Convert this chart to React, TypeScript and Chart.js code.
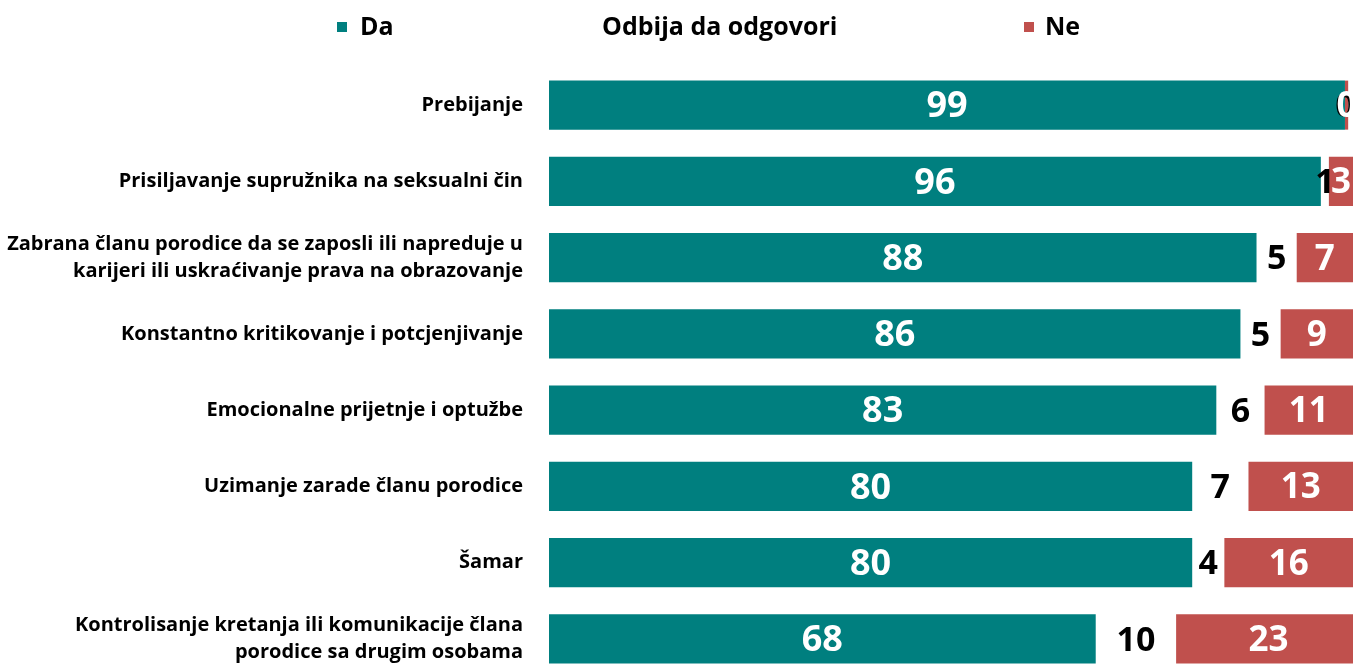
import React, { useEffect, useRef } from "react";
import { Chart, registerables } from "chart.js";

Chart.register(...registerables);

const categories: (string | string[])[] = [
  "Prebijanje",
  "Prisiljavanje supružnika na seksualni čin",
  ["Zabrana članu porodice da se zaposli ili napreduje u", "karijeri ili uskraćivanje prava na obrazovanje"],
  "Konstantno kritikovanje i potcjenjivanje",
  "Emocionalne prijetnje i optužbe",
  "Uzimanje zarade članu porodice",
  "Šamar",
  ["Kontrolisanje kretanja ili komunikacije člana", "porodice sa drugim osobama"],
];
const daValues = [99, 96, 88, 86, 83, 80, 80, 68];
const odbijaValues = [0, 1, 5, 5, 6, 7, 4, 10];
const neValues = [0.4, 3, 7, 9, 11, 13, 16, 23];
const seriesNames = ["Da", "Odbija da odgovori", "Ne"];

const TEAL = "#007F7F";
const RED = "#C0504D";
const FONT = '"Open Sans", "Liberation Sans", sans-serif';

export default function App() {
  const ref = useRef<HTMLCanvasElement>(null);

  useEffect(() => {
    const canvas = ref.current;
    if (!canvas) return;

    const legendPlugin = {
      id: "customLegend",
      afterDraw(chart: any) {
        const ctx = chart.ctx as CanvasRenderingContext2D;
        ctx.save();
        ctx.font = `bold 25px ${FONT}`;
        ctx.textBaseline = "middle";
        ctx.textAlign = "left";
        const y = 27;
        const items = [
          { name: seriesNames[0], color: TEAL, marker: 337, text: 360 },
          { name: seriesNames[1], color: null, marker: 579, text: 602 },
          { name: seriesNames[2], color: RED, marker: 1024, text: 1045 },
        ];
        items.forEach((it) => {
          if (it.color) {
            ctx.fillStyle = it.color;
            ctx.fillRect(it.marker, y - 5, 10, 10);
          }
          ctx.fillStyle = "#000";
          ctx.fillText(it.name, it.text, y + 1);
        });
        ctx.restore();
      },
    };

    const labelPlugin = {
      id: "barLabels",
      afterDatasetsDraw(chart: any) {
        const ctx = chart.ctx as CanvasRenderingContext2D;
        const styles = [
          { color: "#fff", size: 36 },
          { color: "#000", size: 34 },
          { color: "#fff", size: 35 },
        ];
        ctx.save();
        ctx.textAlign = "center";
        ctx.textBaseline = "middle";
        chart.data.datasets.forEach((ds: any, i: number) => {
          const meta = chart.getDatasetMeta(i);
          const st = styles[i];
          ctx.font = `bold ${st.size}px ${FONT}`;
          ctx.fillStyle = st.color;
          meta.data.forEach((bar: any, j: number) => {
            const p = bar.getProps(["x", "y", "base"], true);
            const cx = (p.x + p.base) / 2;
            ctx.fillText(String(Math.round(ds.data[j])), cx, p.y + 2);
          });
        });
        ctx.restore();
      },
    };

    const chart = new Chart(canvas, {
      type: "bar",
      data: {
        labels: categories,
        datasets: [
          { label: seriesNames[0], data: daValues, backgroundColor: TEAL },
          { label: seriesNames[1], data: odbijaValues, backgroundColor: "rgba(0,0,0,0)" },
          { label: seriesNames[2], data: neValues, backgroundColor: RED },
        ],
      },
      options: {
        indexAxis: "y",
        responsive: false,
        animation: false,
        devicePixelRatio: 1,
        datasets: {
          bar: { barPercentage: 1, categoryPercentage: 0.643 },
        },
        layout: { padding: { top: 67, right: 11, bottom: 3, left: 0 } },
        plugins: {
          legend: { display: false },
          tooltip: { enabled: false },
        },
        scales: {
          x: { stacked: true, min: 0, max: 100, display: false },
          y: {
            stacked: true,
            grid: { display: false, drawTicks: false },
            border: { display: false },
            ticks: {
              color: "#000",
              padding: 26,
              font: { family: FONT, size: 20, weight: "bold", lineHeight: 1.35 },
            },
            afterFit(scale: any) {
              scale.width = 549;
              scale.paddingTop = 0;
              scale.paddingBottom = 0;
            },
          },
        },
      } as any,
      plugins: [legendPlugin, labelPlugin],
    });

    return () => chart.destroy();
  }, []);

  return (
    <div
      style={{
        position: "fixed",
        left: 0,
        top: 0,
        width: 1364,
        height: 664,
        overflow: "hidden",
        background: "#fff",
      }}
    >
      <canvas ref={ref} width={1364} height={680} style={{ display: "block" }} />
    </div>
  );
}
